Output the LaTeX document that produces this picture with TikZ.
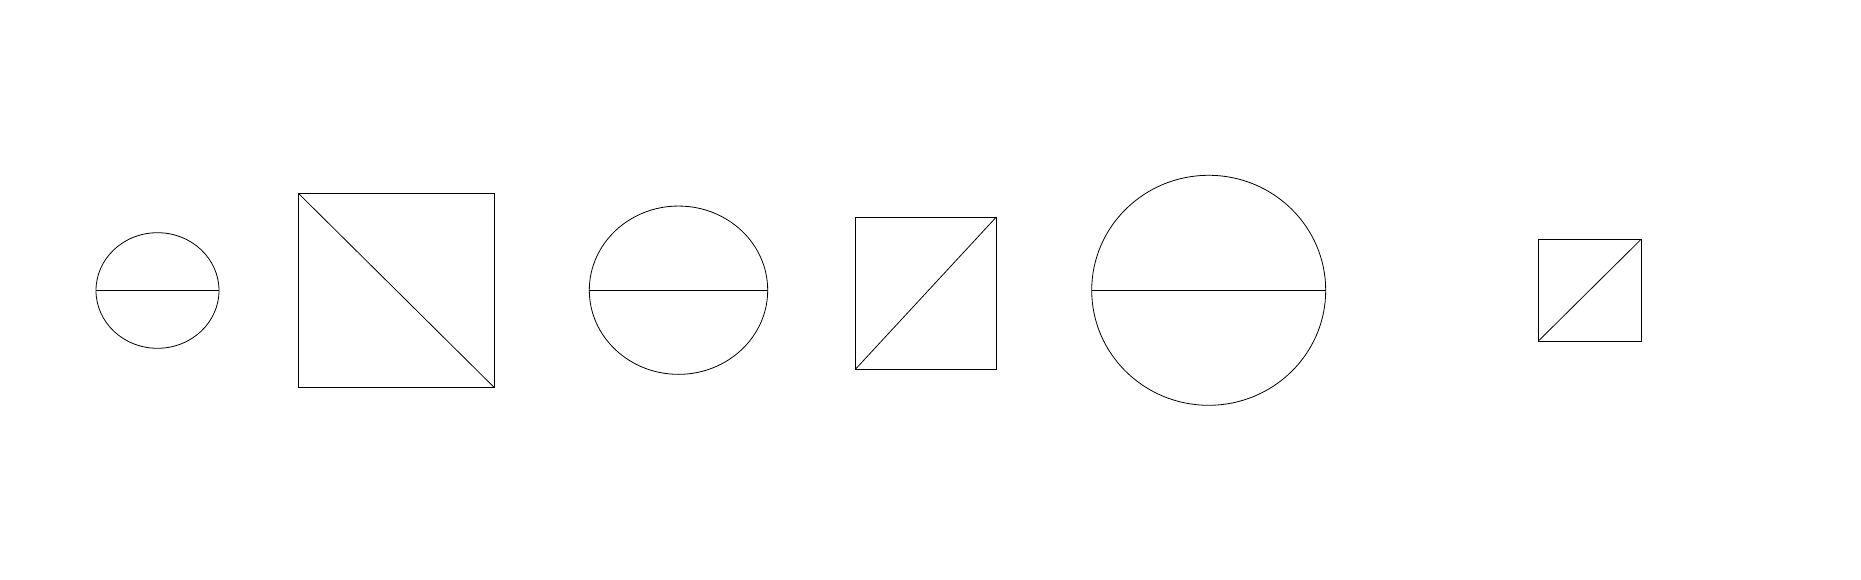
\documentclass[tikz,border=0pt]{standalone}
\usetikzlibrary{shapes.geometric}
\begin{document}
\begin{tikzpicture}[x=1pt,y=-1pt,
  shapeline/.style={draw=black,line width=0.8pt,inner sep=0pt,outer sep=0pt},
  oval/.style={shapeline,ellipse},
  box/.style={shapeline,rectangle},
  chord/.style={draw=black,line width=0.8pt}]
\useasboundingbox (0,0) rectangle (1861,580);
\node[oval,minimum width=123pt,minimum height=115.6pt] (e1) at (157.5,290.5) {};
\draw[chord] (e1.west) -- (e1.east);
\node[box,minimum width=195.7pt,minimum height=194pt] (r1) at (396.2,290.3) {};
\draw[chord] (r1.north west) -- (r1.south east);
\node[oval,minimum width=178.4pt,minimum height=168.3pt] (e2) at (678.5,290.2) {};
\draw[chord] (e2.west) -- (e2.east);
\node[box,minimum width=141pt,minimum height=152.3pt] (r2) at (925.8,293.2) {};
\draw[chord] (r2.south west) -- (r2.north east);
\node[oval,minimum width=234pt,minimum height=230pt] (e3) at (1208.7,290.3) {};
\draw[chord] (e3.west) -- (e3.east);
\node[box,minimum width=102.7pt,minimum height=101.7pt] (r3) at (1589.7,290.2) {};
\draw[chord] (r3.south west) -- (r3.north east);
\end{tikzpicture}
\end{document}
